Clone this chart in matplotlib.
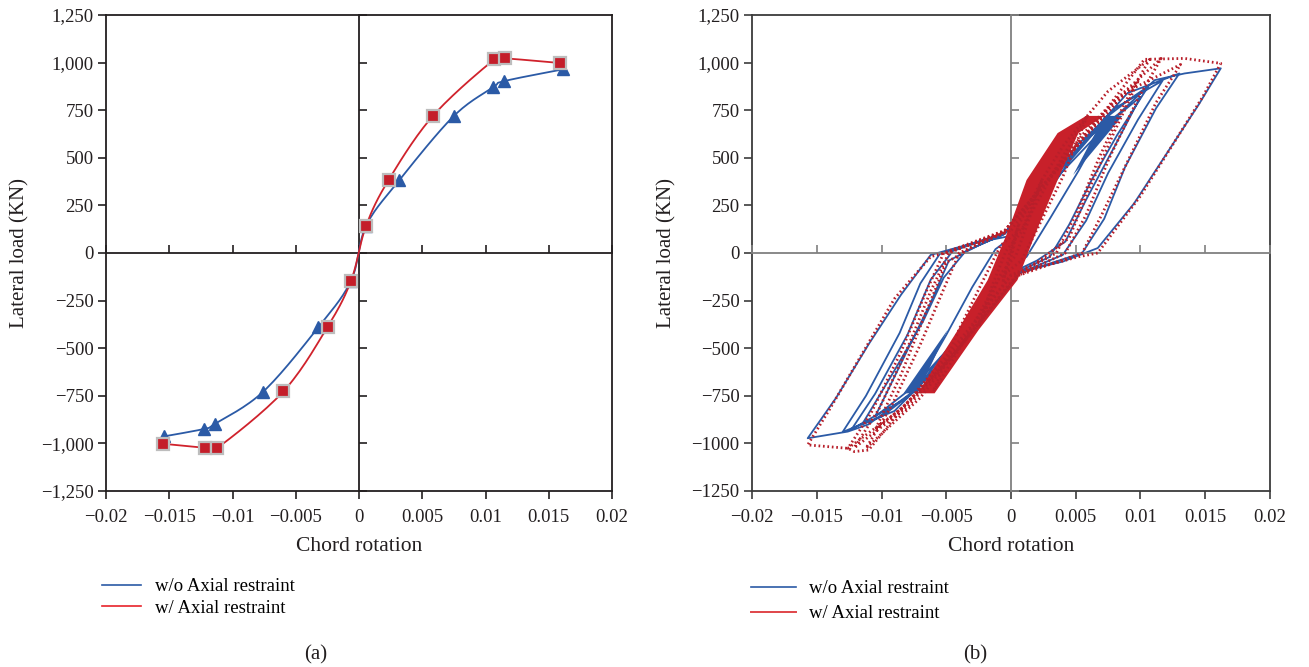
import numpy as np
import matplotlib
matplotlib.use("Agg")
import matplotlib.pyplot as plt
from matplotlib.lines import Line2D

plt.rcParams['font.family'] = ['Liberation Serif', 'DejaVu Serif']
plt.rcParams['axes.unicode_minus'] = True

# (a) skeleton curves: chord rotation vs lateral load
rot_noax = [-0.0154, -0.01225, -0.0114, -0.00757, -0.00322, -0.00063,
            0.00055, 0.00319, 0.00748, 0.0106, 0.01149, 0.01615]
load_noax = [-963, -924, -898, -728, -390, -145,
             142, 383, 719, 870, 903, 965]
rot_ax = [-0.0155, -0.01215, -0.01125, -0.00598, -0.00248, -0.00063,
          0.00055, 0.00235, 0.00585, 0.0107, 0.01157, 0.01587]
load_ax = [-1002, -1023, -1026, -727, -387, -145,
           142, 385, 721, 1017, 1022, 998]

# (b) hysteresis histories
hyst_rot_noax = [0, 0.0006, 0.0001, -0.0006, -0.0001, 0.0006, 0.0018, 0.0032, 0.0020, 0.0008,
                 -0.0004, -0.0018, -0.0032, -0.0021, -0.0008, 0.0004, 0.0019, 0.0032, 0.0050, 0.0076,
                 0.0052, 0.0030, 0.0012, -0.0008, -0.0040, -0.0075, -0.0050, -0.0030, -0.0012, 0.0008,
                 0.0045, 0.0076, 0.0092, 0.0106, 0.0082, 0.0062, 0.0045, 0.0030, 0.0005, -0.0035,
                 -0.0075, -0.0100, -0.0115, -0.0092, -0.0068, -0.0052, -0.0035, -0.0005, 0.0040, 0.0080,
                 0.0117, 0.0098, 0.0075, 0.0058, 0.0040, 0.0005, -0.0040, -0.0080, -0.0123, -0.0105,
                 -0.0080, -0.0062, -0.0045, -0.0005, 0.0045, 0.0090, 0.0130, 0.0112, 0.0088, 0.0072,
                 0.0055, 0.0005, -0.0045, -0.0090, -0.0130, -0.0112, -0.0086, -0.0070, -0.0055, -0.0005,
                 0.0040, 0.0075, 0.0100, 0.0080, 0.0058, 0.0042, 0.0020, 0.0000, -0.0040, -0.0075,
                 -0.0105, -0.0085, -0.0062, -0.0048, -0.0025, -0.0005,
                 0.0020, 0.0040, 0.0060, 0.0083, 0.0111, 0.0134, 0.0162, 0.0145, 0.0120, 0.0095,
                 0.0067, 0.0040, 0.0000, -0.0030, -0.0050, -0.0074, -0.0110, -0.0126, -0.0157, -0.0135,
                 -0.0110, -0.0085, -0.0062, -0.0030, 0.0000]
hyst_load_noax = [0, 145, 0, -145, 0, 145, 260, 385, 210, 20,
                  -70, -250, -390, -210, -20, 70, 250, 385, 560, 725,
                  430, 180, -20, -120, -430, -728, -430, -180, 20, 120,
                  480, 725, 810, 875, 620, 380, 150, -20, -100, -430,
                  -728, -860, -900, -640, -360, -130, 10, 100, 460, 760,
                  905, 700, 420, 170, -10, -110, -480, -760, -925, -740,
                  -430, -140, 10, 105, 500, 840, 943, 760, 450, 180,
                  0, -110, -520, -830, -940, -750, -420, -160, -5, 105,
                  430, 680, 820, 560, 280, 60, -40, -105, -440, -700,
                  -860, -580, -260, -40, 40, 100,
                  270, 450, 610, 730, 908, 943, 970, 780, 520, 260,
                  26, -45, -110, -370, -560, -720, -900, -938, -973, -760,
                  -480, -220, -10, 50, 90]
hyst_rot_ax = [0, 0.00055, 0.0001, -0.0006, -0.0001, 0.00055, 0.0024, 0.0014, 0.0004, -0.0008,
               -0.0025, -0.0015, -0.0004, 0.0008, 0.0024, 0.0040, 0.0059, 0.0040, 0.0022, 0.0008,
               -0.0010, -0.0035, -0.0060, -0.0040, -0.0022, -0.0008, 0.0010, 0.0035, 0.0059, 0.0075,
               0.0107, 0.0088, 0.0068, 0.0050, 0.0035, 0.0005, -0.0035, -0.0070, -0.0112, -0.0092,
               -0.0070, -0.0052, -0.0040, -0.0005, 0.0040, 0.0080, 0.0116, 0.0098, 0.0076, 0.0058,
               0.0042, 0.0005, -0.0040, -0.0080, -0.0121, -0.0102, -0.0080, -0.0062, -0.0048, -0.0005,
               0.0045, 0.0090, 0.0131, 0.0112, 0.0090, 0.0070, 0.0055, 0.0005, -0.0045, -0.0085,
               -0.0126, -0.0108, -0.0085, -0.0066, -0.0052, -0.0005,
               0.0040, 0.0075, 0.0098, 0.0080, 0.0060, 0.0045, 0.0020, 0.0000, -0.0040, -0.0075,
               -0.0105, -0.0085, -0.0065, -0.0050, -0.0025, 0.0000,
               0.0030, 0.0055, 0.0075, 0.0103,
               0.0134, 0.0162, 0.0148, 0.0125, 0.0100, 0.0067, 0.0052, 0.0000, -0.0035, -0.0074,
               -0.0110, -0.0121, -0.0126, -0.0157, -0.0140, -0.0115, -0.0090, -0.0062, -0.0051, 0.0000]
hyst_load_ax = [0, 142, 0, -145, 0, 142, 385, 180, -10, -110,
                -387, -180, 10, 110, 385, 560, 721, 400, 150, -40,
                -140, -450, -727, -400, -150, 40, 140, 450, 721, 850,
                1017, 790, 500, 200, 0, -110, -450, -760, -1026, -800,
                -480, -190, 0, 110, 480, 800, 1022, 810, 500, 200,
                0, -120, -500, -810, -1023, -820, -500, -200, 0, 115,
                520, 850, 990, 790, 480, 200, 0, -120, -540, -820,
                -1026, -840, -520, -210, 0, 118,
                470, 760, 900, 640, 330, 80, -50, -118, -480, -760,
                -930, -640, -300, -50, 50, 118,
                400, 620, 768, 1017,
                1022, 996, 820, 570, 300, 0, -20, -115, -420, -735,
                -1035, -1043, -1026, -1008, -820, -530, -240, -19, 0, 120]

# densely repeated small cycles (appear as solid bands)
band_rot_ax = [-0.0072, -0.0041, -0.0018, -0.0002, 0.0012, 0.0036, 0.0058,
               0.0072, 0.0052, 0.0036, 0.0020, 0.0005, -0.0025, -0.0059]
band_load_ax = [-737, -404, -142, 121, 383, 630, 720,
                720, 630, 383, 121, -142, -404, -737]
band_pos_rot_noax = [0.0072, 0.0086, 0.0048]
band_pos_load_noax = [720, 720, 410]
band_neg_rot_noax = [-0.0083, -0.0072, -0.0049]
band_neg_load_noax = [-737, -737, -404]

xticks = [-0.02, -0.015, -0.01, -0.005, 0, 0.005, 0.01, 0.015, 0.02]
xticklabels = ['\u22120.02', '\u22120.015', '\u22120.01', '\u22120.005', '0',
               '0.005', '0.01', '0.015', '0.02']
yticks = [-1250, -1000, -750, -500, -250, 0, 250, 500, 750, 1000, 1250]
yticklabels_a = ['\u22121,250', '\u22121,000', '\u2212750', '\u2212500', '\u2212250', '0',
                 '250', '500', '750', '1,000', '1,250']
yticklabels_b = ['\u22121250', '\u22121000', '\u2212750', '\u2212500', '\u2212250', '0',
                 '250', '500', '750', '1,000', '1,250']

BLUE = '#2b5aa6'
RED = '#d0222c'
DRED = '#b81f2a'
TXT = '#231f20'


def smooth(x, y, n=16):
    # Catmull-Rom rendering of a smoothed line through the given points
    p = np.column_stack([x, y]).astype(float)
    p = np.vstack([p[0], p, p[-1]])
    out = []
    t = np.linspace(0, 1, n, endpoint=False)
    for i in range(1, len(p) - 2):
        p0, p1, p2, p3 = p[i - 1], p[i], p[i + 1], p[i + 2]
        for tt in t:
            out.append(0.5 * ((2 * p1) + (-p0 + p2) * tt +
                              (2 * p0 - 5 * p1 + 4 * p2 - p3) * tt ** 2 +
                              (-p0 + 3 * p1 - 3 * p2 + p3) * tt ** 3))
    out.append(p[-2])
    out = np.array(out)
    return out[:, 0], out[:, 1]


def frame(fig, rect, labels, frame_color, cross_color):
    ax = fig.add_axes(rect)
    ax.set_xlim(-0.02, 0.02)
    ax.set_ylim(-1250, 1250)
    ax.set_xticks(xticks)
    ax.set_xticklabels(xticklabels)
    ax.set_yticks(yticks)
    ax.set_yticklabels(labels)
    ax.tick_params(direction='out', length=6, width=1.2, labelsize=13.5,
                   colors=frame_color, labelcolor=TXT)
    ax.tick_params(axis='x', pad=7)
    ax.tick_params(axis='y', pad=3)
    for s in ax.spines.values():
        s.set_color(frame_color)
        s.set_linewidth(1.3)
    ax.set_xlabel('Chord rotation', fontsize=15.5, color=TXT)
    ax.set_ylabel('Lateral load (KN)', fontsize=15, color=TXT)
    ax.xaxis.set_label_coords(0.5, -0.097)
    # centre cross with inward ticks
    cx = fig.add_axes(rect, sharex=ax, sharey=ax)
    cx.patch.set_visible(False)
    cx.spines['left'].set_position(('data', 0))
    cx.spines['bottom'].set_position(('data', 0))
    cx.spines['top'].set_visible(False)
    cx.spines['right'].set_visible(False)
    for s in ('left', 'bottom'):
        cx.spines[s].set_color(cross_color)
        cx.spines[s].set_linewidth(1.3)
    cx.tick_params(direction='in', length=6, width=1.2, colors=cross_color,
                   labelleft=False, labelbottom=False)
    return ax, cx


fig = plt.figure(figsize=(13.09, 6.67), dpi=100)

# ---- (a)
axa, cxa = frame(fig, [0.081, 0.2639, 0.3866, 0.7136], yticklabels_a, TXT, TXT)
axa.yaxis.set_label_coords(-0.152, 0.5)
sx, sy = smooth(rot_noax, load_noax)
cxa.plot(sx, sy, color=BLUE, lw=1.3, zorder=3)
sx, sy = smooth(rot_ax, load_ax)
cxa.plot(sx, sy, color=RED, lw=1.3, zorder=3)
cxa.plot(rot_noax, load_noax, ls='none', marker='^', ms=9, color=BLUE,
         mec=BLUE, zorder=4)
cxa.plot(rot_ax, load_ax, ls='none', marker='s', ms=8, color='#c41e2a',
         mec='#bdbdbd', mew=1.6, zorder=5)
fig.legend(handles=[Line2D([], [], color=BLUE, lw=1.2),
                    Line2D([], [], color='#e8232a', lw=1.2)],
           labels=['w/o Axial restraint', 'w/ Axial restraint'],
           loc='upper left', bbox_to_anchor=(0.078, 0.133), frameon=False,
           fontsize=13.5, handlelength=2.1, handletextpad=0.7,
           labelspacing=0.22, borderpad=0, borderaxespad=0)
fig.text(0.2414, 0.018, '(a)', fontsize=15, ha='center', va='center', color=TXT)

# ---- (b)
axb, cxb = frame(fig, [0.5745, 0.2639, 0.3957, 0.7136], yticklabels_b,
                 '#3c3c3c', '#808080')
axb.yaxis.set_label_coords(-0.146, 0.5)
cxb.fill(band_pos_rot_noax, band_pos_load_noax, color=BLUE, lw=0, zorder=2)
cxb.fill(band_neg_rot_noax, band_neg_load_noax, color=BLUE, lw=0, zorder=2)
cxb.plot(hyst_rot_noax, hyst_load_noax, color=BLUE, lw=1.3, zorder=2)
cxb.fill(band_rot_ax, band_load_ax, color='#c8202a', lw=0, zorder=3)
cxb.plot(hyst_rot_ax, hyst_load_ax, color=DRED, lw=2.0, ls=(0, (0.6, 1.0)),
         zorder=3)
fig.legend(handles=[Line2D([], [], color=BLUE, lw=1.2),
                    Line2D([], [], color='#e0454a', lw=1.4)],
           labels=['w/o Axial restraint', 'w/ Axial restraint'],
           loc='upper left', bbox_to_anchor=(0.574, 0.130), frameon=False,
           fontsize=13.5, handlelength=2.4, handletextpad=0.7,
           labelspacing=0.42, borderpad=0, borderaxespad=0)
fig.text(0.745, 0.018, '(b)', fontsize=15, ha='center', va='center', color=TXT)

fig.savefig('out.png', dpi=100)
